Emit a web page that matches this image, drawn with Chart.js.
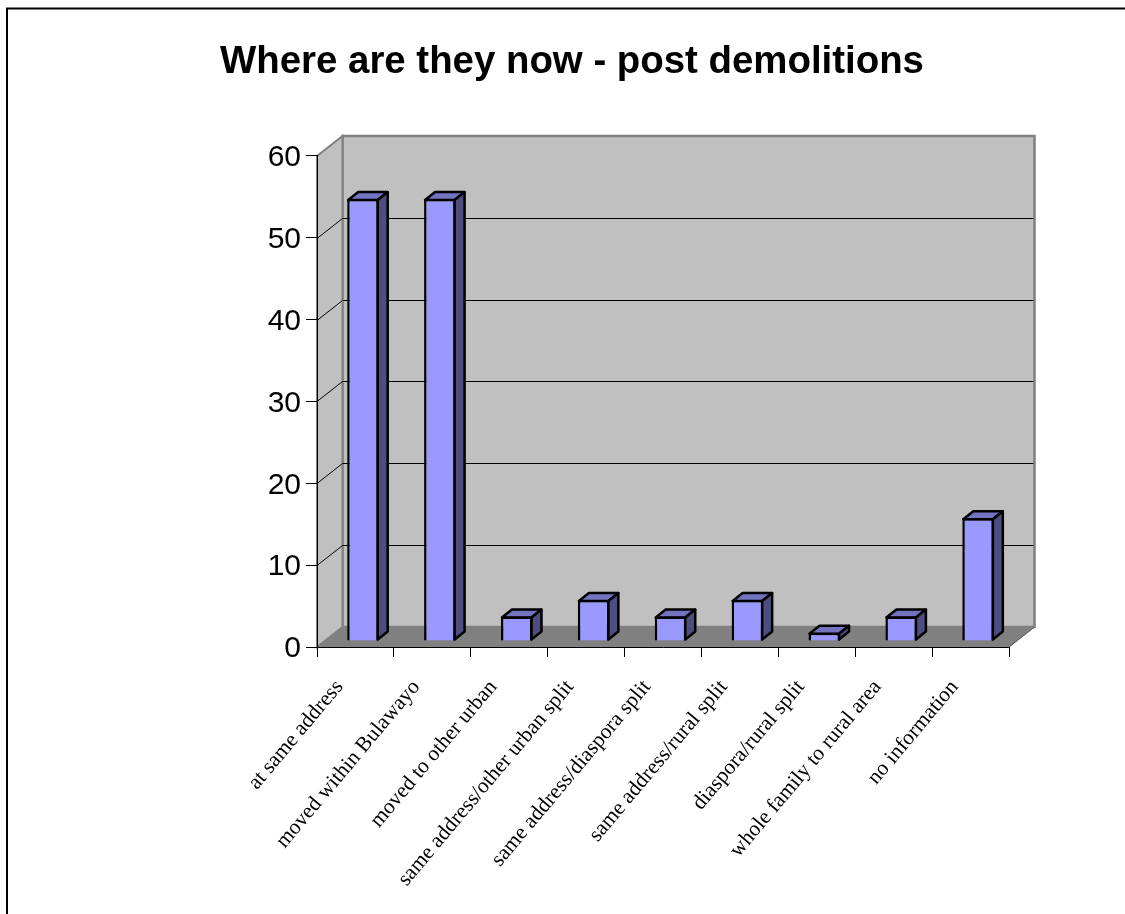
<!DOCTYPE html>
<html>
<head>
<meta charset="utf-8">
<title>Where are they now - post demolitions</title>
<script src="https://cdn.jsdelivr.net/npm/chart.js@4"></script>
<style>
    html, body { margin: 0; padding: 0; background: #fff; overflow: hidden; }
    canvas { display: block; }
</style>
</head>
<body>
<canvas id="chart" width="1125" height="914"></canvas>
<script>
const chartTitle = 'Where are they now - post demolitions';
const categories = [
    'at same address',
    'moved within Bulawayo',
    'moved to other urban',
    'same address/other urban split',
    'same address/diaspora split',
    'same address/rural split',
    'diaspora/rural split',
    'whole family to rural area',
    'no information'
];
const values = [54, 54, 3, 5, 3, 5, 1, 3, 15];
const yTicks = [0, 10, 20, 30, 40, 50, 60];

// depth of the fake 3D box, in pixels
const wallDx = 25.5;
const wallDy = -20;
const barDx = 10;
const barDy = -8;
const barShiftX = 7.5;
const barShiftY = -6;

function poly(ctx, pts, fill, stroke, lineWidth) {
    ctx.beginPath();
    pts.forEach((p, i) => i ? ctx.lineTo(p[0], p[1]) : ctx.moveTo(p[0], p[1]));
    ctx.closePath();
    if (fill) {
        ctx.fillStyle = fill;
        ctx.fill();
    }
    if (stroke) {
        ctx.strokeStyle = stroke;
        ctx.lineWidth = lineWidth;
        ctx.stroke();
    }
}

const box3d = {
    id: 'box3d',
    beforeDraw(chart) {
        const { ctx, chartArea: a, scales: { y } } = chart;
        ctx.save();

        // outer frame, cut off by the right and bottom of the picture
        ctx.strokeStyle = '#000';
        ctx.lineWidth = 2;
        ctx.strokeRect(7, 8.5, 1140, 930);

        const l = a.left, r = a.right, t = a.top, b = a.bottom;
        // back wall, side wall, floor
        poly(ctx, [[l + wallDx, t + wallDy], [r + wallDx, t + wallDy], [r + wallDx, b + wallDy], [l + wallDx, b + wallDy]], '#c0c0c0', '#808080', 2.5);
        poly(ctx, [[l, t], [l + wallDx, t + wallDy], [l + wallDx, b + wallDy], [l, b]], '#c0c0c0', '#808080', 2);
        poly(ctx, [[l, b], [r, b], [r + wallDx, b + wallDy], [l + wallDx, b + wallDy]], '#808080', '#808080', 1);

        // grid lines run up the side wall and across the back wall
        ctx.strokeStyle = '#000';
        ctx.lineWidth = 1;
        yTicks.forEach(v => {
            if (v === 0 || v === 60) return;
            const py = Math.round(y.getPixelForValue(v)) + 0.5;
            ctx.beginPath();
            ctx.moveTo(l, py);
            ctx.lineTo(l + wallDx, py + wallDy);
            ctx.lineTo(r + wallDx - 1, py + wallDy);
            ctx.stroke();
        });

        // right end of the floor
        ctx.beginPath();
        ctx.moveTo(r, b);
        ctx.lineTo(r + wallDx, b + wallDy);
        ctx.strokeStyle = '#606060';
        ctx.stroke();
        ctx.restore();
    },
    beforeDatasetsDraw(chart) {
        const ctx = chart.ctx;
        ctx.save();
        ctx.translate(barShiftX, barShiftY);
        chart.getDatasetMeta(0).data.forEach(bar => {
            const left = bar.x - bar.width / 2 + 1;
            const right = bar.x + bar.width / 2 - 1;
            const top = bar.y + 1;
            const base = bar.base - 1;
            ctx.lineJoin = 'round';
            poly(ctx, [[left, top], [right, top], [right + barDx, top + barDy], [left + barDx, top + barDy]], '#7373bf', '#000', 2.5);
            poly(ctx, [[right, top], [right + barDx, top + barDy], [right + barDx, base + barDy], [right, base]], '#4d4d80', '#000', 2.5);
        });
        // the library draws the front faces inside this shift
    },
    afterDatasetsDraw(chart) {
        chart.ctx.restore();
    }
};

new Chart(document.getElementById('chart'), {
    type: 'bar',
    data: {
        labels: categories,
        datasets: [{
            data: values,
            backgroundColor: '#9999ff',
            borderColor: '#000',
            borderWidth: 2.5,
            barPercentage: 0.41,
            categoryPercentage: 1
        }]
    },
    plugins: [box3d],
    options: {
        responsive: false,
        animation: false,
        layout: { padding: { left: 135, right: 116, top: 0, bottom: 0 } },
        plugins: {
            legend: { display: false },
            tooltip: { enabled: false },
            title: {
                display: true,
                text: chartTitle,
                color: '#000',
                font: { family: '"Liberation Sans", Arial, sans-serif', size: 38.4, weight: 'bold' },
                padding: { top: 39, bottom: 70.9 }
            }
        },
        scales: {
            x: {
                afterFit(scale) { scale.height = 267; },
                grid: { drawOnChartArea: false, drawTicks: true, tickLength: 10, color: '#000', offset: true },
                border: { color: '#000', width: 1 },
                ticks: {
                    autoSkip: false,
                    minRotation: 50,
                    maxRotation: 50,
                    padding: 18,
                    labelOffset: -16,
                    color: '#000',
                    font: { family: '"Liberation Serif", "Times New Roman", serif', size: 21.5 }
                }
            },
            y: {
                min: 0,
                max: 60,
                afterFit(scale) { scale.width = 182; },
                afterBuildTicks(scale) { scale.ticks = yTicks.map(v => ({ value: v })); },
                grid: { drawOnChartArea: false, tickLength: 11, color: '#000' },
                border: { color: '#000', width: 1 },
                ticks: {
                    padding: 5,
                    labelOffset: 2,
                    color: '#000',
                    font: { family: '"Liberation Sans", Arial, sans-serif', size: 30 }
                }
            }
        }
    }
});
</script>
</body>
</html>
